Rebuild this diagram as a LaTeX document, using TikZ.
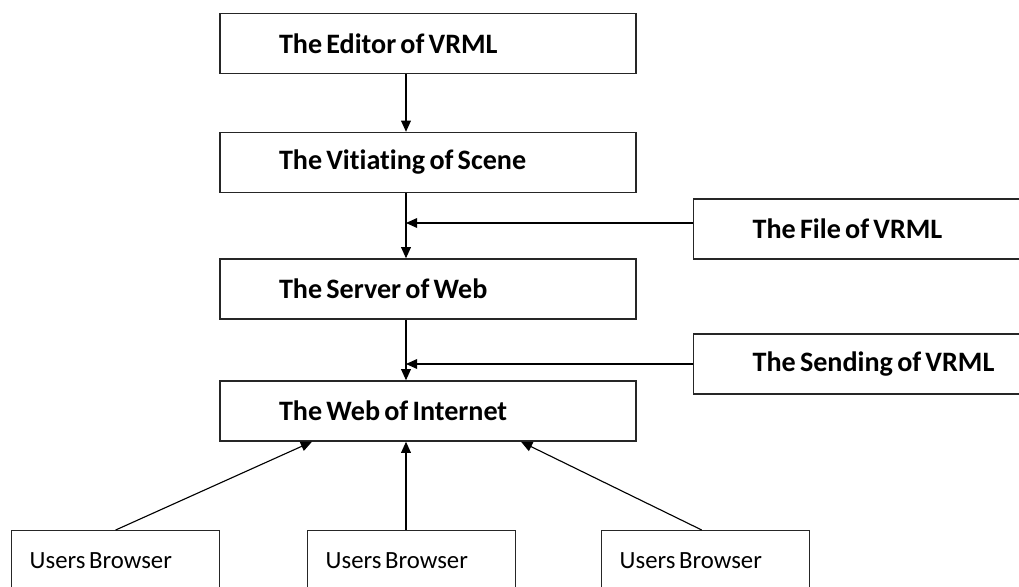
\documentclass[tikz,border=0pt]{standalone}
\usepackage{fontspec}
\setmainfont{Carlito}[Ligatures=CommonOff]
\usepackage{tikz}
\usetikzlibrary{arrows.meta,positioning,calc}

\begin{document}
\begin{tikzpicture}[
    block/.style={rectangle, draw=black!85, line width=1pt, minimum height=1.5cm, text width=7.45cm, inner xsep=1.475cm, inner ysep=0pt, align=left, font=\fontsize{20}{22}\selectfont\bfseries, execute at begin node={\spaceskip=0.15em\relax}},
    side/.style={block, text width=7cm},
    user/.style={rectangle, draw=black!85, line width=1pt, minimum height=1.5cm, text width=4.3cm, inner xsep=0.45cm, inner ysep=0pt, align=left, font=\fontsize{17.6}{20}\selectfont, execute at begin node={\spaceskip=0.15em\relax}},
    arr/.style={-{Triangle[length=8pt,width=7pt]}, line width=0.8pt, black}
]
    \clip (0,0) rectangle (25.475,-14.675);

    \node[block] (ed) at (10.7, -1.0875) {The Editor of VRML};
    \node[block] (vs) at (10.7, -4.0625) {The Vitiating of Scene};
    \node[block] (sw) at (10.7, -7.225) {The Server of Web};
    \node[block] (wi) at (10.7, -10.275) {The Web of Internet};

    \node[side, anchor=west] (fv) at (17.325, -5.725) {The File of VRML};
    \node[side, anchor=west] (sv) at (17.325, -9.1) {The Sending of VRML};

    \node[user, anchor=north west] (ub1) at (0.275, -13.25) {Users Browser};
    \node[user, anchor=north west] (ub2) at (7.675, -13.25) {Users Browser};
    \node[user, anchor=north west] (ub3) at (15.025, -13.25) {Users Browser};

    \coordinate (axis) at (10.15, 0);

    \draw[arr] (ed.south -| axis) -- (vs.north -| axis);
    \draw[arr] (vs.south -| axis) -- (sw.north -| axis);
    \draw[arr] ([yshift=0.15cm]fv.west) -- ([yshift=0.15cm]fv.west -| axis);
    \draw[arr] (sw.south -| axis) -- (wi.north -| axis);
    \draw[arr] (sv.west) -- (sv.west -| axis);

    \draw[arr] (ub1.north) -- ([xshift=-2.9cm]wi.south);
    \draw[arr] (ub2.north -| axis) -- (wi.south -| axis);
    \draw[arr] ([xshift=-0.1cm]ub3.north) -- ([xshift=2.325cm]wi.south);
\end{tikzpicture}
\end{document}
